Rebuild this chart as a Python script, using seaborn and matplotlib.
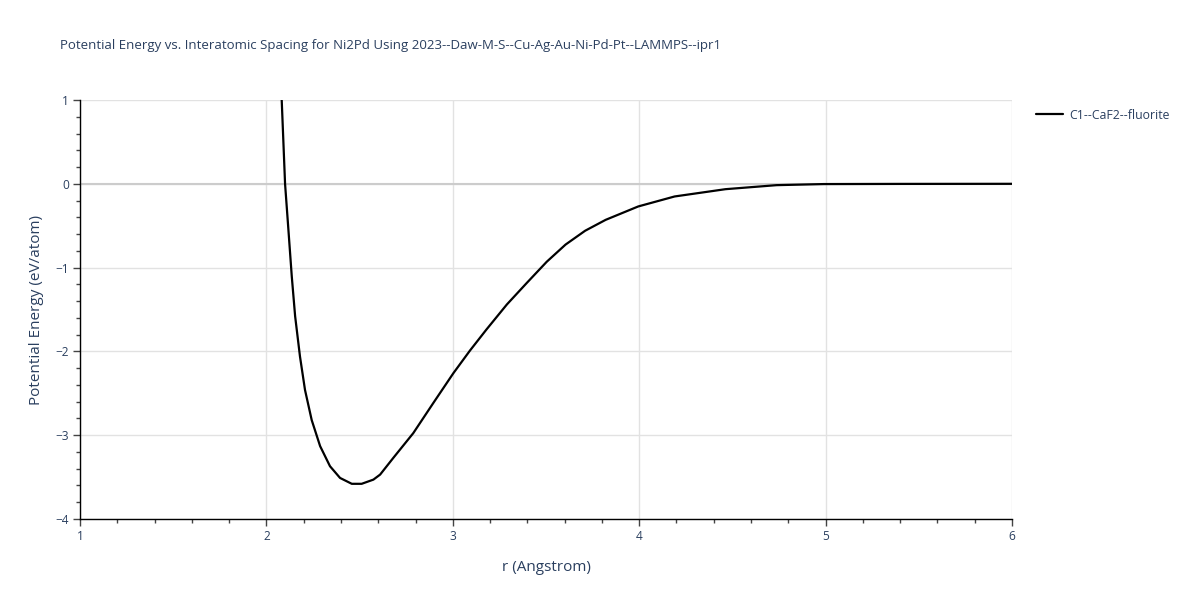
import pandas as pd
import matplotlib.pyplot as plt
import seaborn as sns
from matplotlib.ticker import MultipleLocator

# values
r_vals = [2.082, 2.100, 2.118, 2.136, 2.154, 2.180, 2.207, 2.243, 2.288, 2.341,
          2.395, 2.458, 2.511, 2.574, 2.610, 2.681, 2.788, 2.895, 3.003, 3.092,
          3.180, 3.290, 3.396, 3.504, 3.605, 3.710, 3.820, 3.995, 4.190, 4.463,
          4.737, 4.990, 5.400, 6.000]
energy = [1.00, 0.00, -0.55, -1.105, -1.58, -2.06, -2.46, -2.82, -3.13, -3.37,
          -3.51, -3.58, -3.58, -3.53, -3.47, -3.27, -2.975, -2.617, -2.26, -1.99,
          -1.74, -1.44, -1.185, -0.93, -0.725, -0.56, -0.43, -0.27, -0.151, -0.064,
          -0.016, -0.003, -0.001, 0.0]
series_name = "C1--CaF2--fluorite"

df = pd.DataFrame({"r": r_vals, "E": energy, "structure": series_name})

sns.set_theme(style="white")
plt.rcParams['font.family'] = ['Open Sans', 'DejaVu Sans']
txt = "#2a3f5f"

fig, ax = plt.subplots(figsize=(12, 6), dpi=100)
fig.subplots_adjust(left=0.0667, right=0.8433, top=0.8333, bottom=0.135)

ax.axhline(0, color="#cccccc", lw=1.5, zorder=1)
sns.lineplot(data=df, x="r", y="E", hue="structure", palette=["black"],
             linewidth=1.6, sort=False, ax=ax, zorder=3)

ax.set_xlim(1, 6)
ax.set_ylim(-4, 1)
ax.xaxis.set_major_locator(MultipleLocator(1))
ax.xaxis.set_minor_locator(MultipleLocator(0.2))
ax.yaxis.set_major_locator(MultipleLocator(1))
ax.yaxis.set_minor_locator(MultipleLocator(0.2))
ax.grid(True, which="major", color="#e2e2e2", lw=1)
ax.set_axisbelow(True)

for s in ["top", "right"]:
    ax.spines[s].set_visible(False)
for s in ["left", "bottom"]:
    ax.spines[s].set_color("black")
    ax.spines[s].set_linewidth(1)

ax.tick_params(which="major", direction="out", length=5, width=1, color="#444444",
               labelsize=8.6, labelcolor=txt, bottom=True, left=True, pad=3)
ax.tick_params(which="minor", direction="out", length=3, width=1, color="#444444",
               bottom=True, left=True)
ax.set_yticklabels([f"{int(v)}".replace("-", "\u2212") for v in ax.get_yticks()])

ax.set_xlabel("r (Angstrom)", fontsize=11, color=txt, labelpad=12)
ax.set_ylabel("Potential Energy (eV/atom)", fontsize=11, color=txt, labelpad=8)
fig.text(0.05, 0.925, "Potential Energy vs. Interatomic Spacing for Ni2Pd Using "
         "2023--Daw-M-S--Cu-Ag-Au-Ni-Pd-Pt--LAMMPS--ipr1",
         fontsize=9.5, color=txt, ha="left", va="center")

leg = ax.legend(loc="upper left", bbox_to_anchor=(1.017, 1.0), frameon=False,
                fontsize=8.8, handlelength=2.2, handletextpad=0.5, borderaxespad=0.3)
for t in leg.get_texts():
    t.set_color(txt)

plt.savefig("out.png", dpi=100)
